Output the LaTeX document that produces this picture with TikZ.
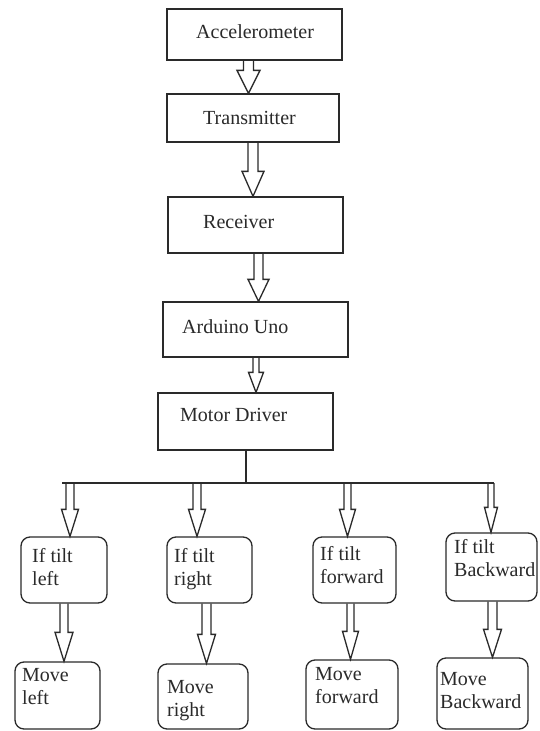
\documentclass[tikz,border=0pt]{standalone}
\usepackage{fontspec}
\setmainfont{Liberation Serif}
\usetikzlibrary{calc}
\definecolor{ink}{HTML}{2A2A2A}
\tikzset{
  box/.style={draw=ink, line width=1.3pt, rectangle, inner sep=0pt},
  rbox/.style={box, rounded corners=9pt},
  lbl/.style={anchor=base west, inner sep=0pt, text=ink, font=\fontsize{20}{23}\selectfont, align=left},
  wire/.style={draw=ink, line width=1.3pt},
  barrow/.style n args={3}{draw=ink, line width=1.3pt, line join=miter,
    to path={let \p1=(\tikztostart), \p2=(\tikztotarget) in
      (\x1-#1,\y1) -- (\x1-#1,\y2+#3) -- (\x1-#2,\y2+#3) -- (\x1,\y2)
      -- (\x1+#2,\y2+#3) -- (\x1+#1,\y2+#3) -- (\x1+#1,\y1)}}
}
\begin{document}
\begin{tikzpicture}[x=1pt,y=-1pt]
\useasboundingbox[fill=white] (0,0) rectangle (539,731);
% main chain boxes
\node[box, minimum width=175pt, minimum height=51pt] (acc) at (254.5,34.5) {};
\node[box, minimum width=172pt, minimum height=48pt] (tx) at (253,118) {};
\node[box, minimum width=175pt, minimum height=56pt] (rx) at (255.5,225) {};
\node[box, minimum width=185pt, minimum height=55pt] (ard) at (255.5,329.5) {};
\node[box, minimum width=175pt, minimum height=57pt] (mot) at (245.5,421.5) {};
\node[lbl] (tacc) at (196,38.5) {Accelerometer};
\node[lbl] (ttx) at (203,124.5) {Transmitter};
\node[lbl] (trx) at (203,228.5) {Receiver};
\node[lbl] (tard) at (182,333.5) {Arduino Uno};
\node[lbl] (tmot) at (180,421.5) {Motor Driver};
% condition boxes
\node[rbox, minimum width=86pt, minimum height=66pt] (tl) at (64,570) {};
\node[rbox, minimum width=85pt, minimum height=66pt] (tr) at (209.5,570) {};
\node[rbox, minimum width=83pt, minimum height=66pt] (tf) at (354.5,570) {};
\node[rbox, minimum width=91pt, minimum height=68pt] (tb) at (491.5,567) {};
\node[lbl] (ttl) at (32,585) {If tilt\\left};
\node[lbl] (ttr) at (174,585) {If tilt\\right};
\node[lbl] (ttf) at (320,583) {If tilt\\forward};
\node[lbl] (ttb) at (454,576) {If tilt\\Backward};
% action boxes
\node[rbox, minimum width=85pt, minimum height=67pt] (ml) at (57.5,695.5) {};
\node[rbox, minimum width=90pt, minimum height=65pt] (mr) at (203,696.5) {};
\node[rbox, minimum width=92pt, minimum height=69pt] (mf) at (352,694.5) {};
\node[rbox, minimum width=91pt, minimum height=71pt] (mb) at (482.5,693.5) {};
\node[lbl] (tml) at (22,704) {Move\\left};
\node[lbl] (tmr) at (167,716) {Move\\right};
\node[lbl] (tmf) at (315,703) {Move\\forward};
\node[lbl] (tmb) at (440,708) {Move\\Backward};
% chain arrows
\draw[barrow={5pt}{11.5pt}{23pt}] ([xshift=-6pt]acc.south) to (tx.north);
\draw[barrow={5pt}{11pt}{25pt}] (tx.south) to (rx.north);
\draw[barrow={4.5pt}{10.5pt}{22pt}] ([xshift=3pt]rx.south) to (ard.north);
\draw[barrow={3pt}{7.5pt}{20pt}] ([xshift=0.5pt]ard.south) to (mot.north);
% bus
\coordinate (j) at (246,483);
\coordinate (busL) at (62,483);
\coordinate (busR) at (494,483);
\coordinate (b1) at (70,483);
\coordinate (b2) at (197,483);
\coordinate (b3) at (347.5,483);
\coordinate (b4) at (491,483);
\draw[wire] (mot.south -| j) -- (j);
\draw[wire] (busL) -- (busR);
\draw[barrow={4pt}{8.5pt}{27pt}] (b1) to (tl.north);
\draw[barrow={4pt}{8.5pt}{27pt}] (b2) to (tr.north);
\draw[barrow={3.5pt}{8pt}{27pt}] (b3) to (tf.north);
\draw[barrow={3pt}{6.5pt}{25pt}] (b4) to (tb.north);
% lower arrows
\draw[barrow={4pt}{9pt}{29pt}] (tl.south) to (ml.north);
\draw[barrow={4.5pt}{9pt}{29pt}] ([xshift=-3pt]tr.south) to (mr.north);
\draw[barrow={3.5pt}{8pt}{28pt}] ([xshift=-4pt]tf.south) to (mf.north);
\draw[barrow={4.5pt}{9pt}{28pt}] ([xshift=1pt]tb.south) to (mb.north);
\end{tikzpicture}
\end{document}
